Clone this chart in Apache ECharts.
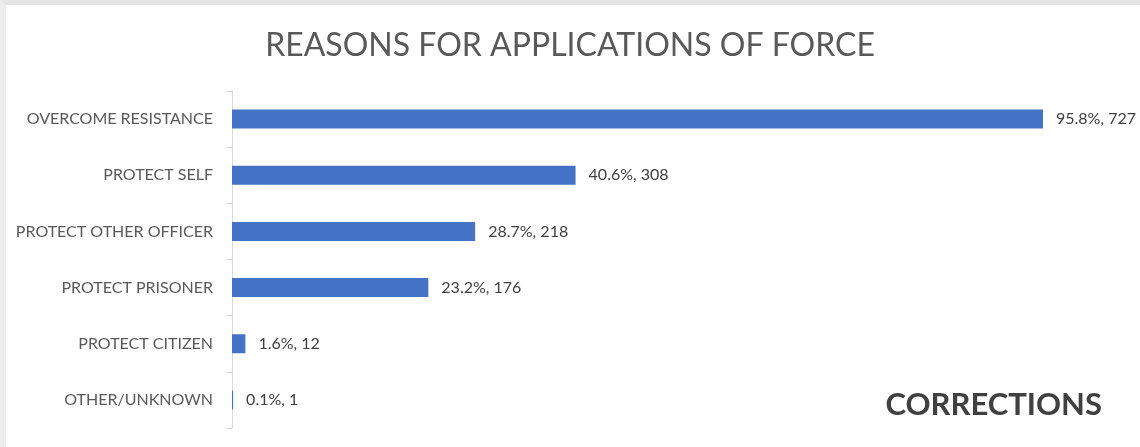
<!DOCTYPE html>
<html>
<head>
<meta charset="utf-8">
<script src="https://cdn.jsdelivr.net/npm/echarts@6/dist/echarts.min.js"></script>
<style>
  html, body { margin: 0; padding: 0; background: #ffffff; }
  #frame {
    position: absolute; left: 0; top: 0; width: 1140px; height: 447px;
    box-sizing: border-box;
    border-top: 5px solid #e4e4e4;
    border-left: 6px solid #ececec;
  }
  #chart { position: absolute; left: 0; top: 0; width: 1140px; height: 447px; }
</style>
</head>
<body>
<div id="frame"></div>
<div id="chart"></div>
<script>
// Reasons recorded for each application of force
const categories = [
  'OVERCOME RESISTANCE',
  'PROTECT SELF',
  'PROTECT OTHER OFFICER',
  'PROTECT PRISONER',
  'PROTECT CITIZEN',
  'OTHER/UNKNOWN'
];
const counts = [727, 308, 218, 176, 12, 1];
const percents = ['95.8%', '40.6%', '28.7%', '23.2%', '1.6%', '0.1%'];

const FONT = 'Lato, "Open Sans", sans-serif';

const chart = echarts.init(document.getElementById('chart'), null, { renderer: 'canvas' });

chart.setOption({
  backgroundColor: 'transparent',
  animation: false,
  title: {
    text: 'REASONS FOR APPLICATIONS OF FORCE',
    left: 'center',
    top: 25,
    textStyle: { fontFamily: FONT, fontSize: 32, fontWeight: 'normal', color: '#595959' }
  },
  graphic: [{
    type: 'text',
    right: 38,
    top: 389,
    style: { text: 'CORRECTIONS', fontFamily: FONT, fontSize: 31, fontWeight: 'bold', fill: '#404040' }
  }],
  grid: { left: 232, right: 15.6, top: 91, bottom: 19, containLabel: false },
  xAxis: {
    type: 'value',
    min: 0,
    max: 800,
    show: false
  },
  yAxis: {
    type: 'category',
    data: categories,
    inverse: true,
    axisLine: { show: true, lineStyle: { color: '#d9d9d9', width: 1 } },
    axisTick: { show: true, length: 6, lineStyle: { color: '#d9d9d9' } },
    axisLabel: { fontFamily: FONT, fontSize: 16, color: '#595959', margin: 19 }
  },
  series: [{
    type: 'bar',
    data: counts,
    barWidth: 19,
    itemStyle: { color: '#4472C4' },
    label: {
      show: true,
      position: 'right',
      distance: 13,
      fontFamily: FONT,
      fontSize: 16,
      color: '#404040',
      formatter: p => percents[p.dataIndex] + ', ' + p.value
    }
  }]
});
</script>
</body>
</html>
